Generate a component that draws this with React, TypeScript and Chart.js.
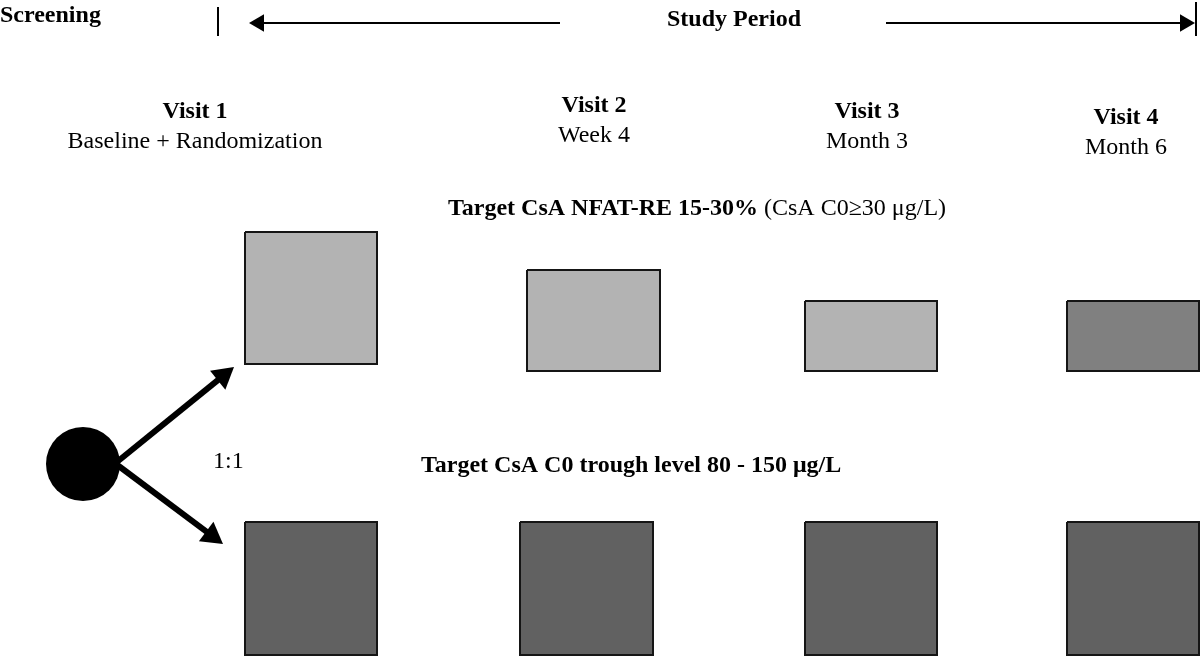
import React, { useEffect, useRef } from "react";
import { Chart, registerables } from "chart.js";

Chart.register(...registerables);

// ---- Diagram data (diagram units = px of the 1200 x 657 figure) ----
const visitNames = ["Visit 1", "Visit 2", "Visit 3", "Visit 4"];
const visitTimes = ["Baseline + Randomization", "Week 4", "Month 3", "Month 6"];
const visitLabelX = [195, 594, 867, 1126];
const visitLabelBaseline = [118, 112, 118, 124];

const nfatBoxLeft = [245, 527, 805, 1067];
const nfatBoxRight = [377, 660, 937, 1199];
const nfatBoxTop = [232, 270, 301, 301];
const nfatBoxBottom = [364, 371, 371, 371];
const nfatBoxColors = ["#b3b3b3", "#b3b3b3", "#b3b3b3", "#808080"];

const troughBoxLeft = [245, 520, 805, 1067];
const troughBoxRight = [377, 653, 937, 1199];
const troughBoxTop = [522, 522, 522, 522];
const troughBoxBottom = [655, 655, 655, 655];
const troughBoxColors = ["#616161", "#616161", "#616161", "#616161"];

// arrows: [fromX, fromY, toX, toY]
const timelineArrows = [
  [560, 23, 249, 23],
  [886, 23, 1195, 23],
];
const randomArrows = [
  [112, 466, 234, 367],
  [112, 461, 223, 544],
];
// vertical markers: [x, y1, y2]
const periodMarkers = [
  [218, 7, 36],
  [1196, 2, 36],
];
const randomCircle = { x: 83, y: 464 };

const screeningLabel = { text: "Screening", x: 0, y: 22 };
const periodLabel = { text: "Study Period", x: 734, y: 26 };
const ratioLabel = { text: "1:1", x: 213, y: 468 };
const nfatTitleBold = "Target CsA NFAT-RE 15-30%";
const nfatTitleRegular = " (CsA C0\u226530 \u03bcg/L)";
const nfatTitlePos = { x: 448, y: 215 };
const troughTitle = { text: "Target CsA C0 trough level 80 - 150 \u03bcg/L", x: 421, y: 472 };

const FONT_FAMILY = '"Liberation Serif", "Times New Roman", serif';
const FONT_SIZE = 24;

function boxDataset(l: number, r: number, t: number, b: number, color: string) {
  return {
    type: "line",
    data: [
      { x: l, y: t },
      { x: r, y: t },
      { x: r, y: b },
      { x: l, y: b },
      { x: l, y: t },
    ],
    borderColor: "#151515",
    borderWidth: 2,
    borderJoinStyle: "miter",
    backgroundColor: color,
    fill: "shape",
    pointRadius: 0,
    tension: 0,
    order: 4,
  };
}

function lineDataset(x1: number, y1: number, x2: number, y2: number, width: number) {
  return {
    type: "line",
    data: [
      { x: x1, y: y1 },
      { x: x2, y: y2 },
    ],
    borderColor: "#000",
    borderWidth: width,
    borderCapStyle: "butt",
    fill: false,
    pointRadius: 0,
    tension: 0,
    order: 2,
  };
}

function arrowDatasets(a: number[], width: number, headR: number) {
  const [x1, y1, x2, y2] = a;
  const dx = x2 - x1;
  const dy = y2 - y1;
  const len = Math.hypot(dx, dy);
  const ux = dx / len;
  const uy = dy / len;
  const cx = x2 - ux * headR;
  const cy = y2 - uy * headR;
  const rot = (Math.atan2(dx, -dy) * 180) / Math.PI;
  return [
    lineDataset(x1, y1, cx, cy, width),
    {
      type: "line",
      data: [{ x: cx, y: cy }],
      showLine: false,
      pointStyle: "triangle",
      pointRadius: headR,
      pointRotation: rot,
      pointBackgroundColor: "#000",
      pointBorderColor: "#000",
      pointBorderWidth: 0,
      order: 1,
    },
  ];
}

const textPlugin = {
  id: "diagramText",
  afterDatasetsDraw(chart: any) {
    const { ctx } = chart;
    const xs = chart.scales.x;
    const ys = chart.scales.y;
    const bold = `bold ${FONT_SIZE}px ${FONT_FAMILY}`;
    const reg = `${FONT_SIZE}px ${FONT_FAMILY}`;
    ctx.save();
    ctx.fillStyle = "#000";
    ctx.textBaseline = "alphabetic";
    const draw = (text: string, x: number, y: number, font: string, align: string) => {
      ctx.font = font;
      ctx.textAlign = align;
      ctx.fillText(text, xs.getPixelForValue(x), ys.getPixelForValue(y));
    };
    draw(screeningLabel.text, screeningLabel.x, screeningLabel.y, bold, "left");
    draw(periodLabel.text, periodLabel.x, periodLabel.y, bold, "center");
    visitNames.forEach((n, i) => {
      draw(n, visitLabelX[i], visitLabelBaseline[i], bold, "center");
      draw(visitTimes[i], visitLabelX[i], visitLabelBaseline[i] + 30, reg, "center");
    });
    // mixed-weight title
    ctx.font = bold;
    const bw = ctx.measureText(nfatTitleBold).width;
    draw(nfatTitleBold, nfatTitlePos.x, nfatTitlePos.y, bold, "left");
    ctx.font = reg;
    ctx.textAlign = "left";
    ctx.fillText(
      nfatTitleRegular,
      xs.getPixelForValue(nfatTitlePos.x) + bw,
      ys.getPixelForValue(nfatTitlePos.y)
    );
    draw(troughTitle.text, troughTitle.x, troughTitle.y, bold, "left");
    draw(ratioLabel.text, ratioLabel.x, ratioLabel.y, reg, "left");
    ctx.restore();
  },
};

export default function App() {
  const canvasRef = useRef<HTMLCanvasElement | null>(null);

  useEffect(() => {
    document.body.style.margin = "0";
    const datasets: any[] = [];
    nfatBoxLeft.forEach((l, i) =>
      datasets.push(boxDataset(l, nfatBoxRight[i], nfatBoxTop[i], nfatBoxBottom[i], nfatBoxColors[i]))
    );
    troughBoxLeft.forEach((l, i) =>
      datasets.push(
        boxDataset(l, troughBoxRight[i], troughBoxTop[i], troughBoxBottom[i], troughBoxColors[i])
      )
    );
    timelineArrows.forEach((a) => datasets.push(...arrowDatasets(a, 2, 10)));
    randomArrows.forEach((a) => datasets.push(...arrowDatasets(a, 6, 14)));
    periodMarkers.forEach(([x, y1, y2]) => datasets.push(lineDataset(x, y1, x, y2, 2)));
    datasets.push({
      type: "line",
      data: [randomCircle],
      showLine: false,
      pointStyle: "circle",
      pointRadius: 37,
      pointBackgroundColor: "#000",
      pointBorderWidth: 0,
      order: 0,
    });

    const chart = new Chart(canvasRef.current as HTMLCanvasElement, {
      type: "line",
      data: { datasets },
      options: {
        animation: false,
        responsive: true,
        maintainAspectRatio: false,
        events: [],
        layout: { padding: 0, autoPadding: false },
        scales: {
          x: { type: "linear", min: 0, max: 1200, display: false },
          y: { type: "linear", min: 0, max: 657, reverse: true, display: false },
        },
        plugins: {
          legend: { display: false },
          tooltip: { enabled: false },
        },
      },
      plugins: [textPlugin],
    } as any);
    return () => chart.destroy();
  }, []);

  return (
    <div style={{ width: 1200, height: 657, position: "relative", background: "#fff" }}>
      <canvas ref={canvasRef} />
    </div>
  );
}
